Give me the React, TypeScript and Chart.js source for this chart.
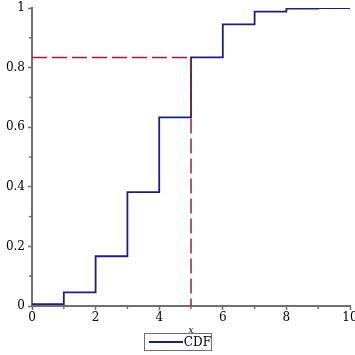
import React, { useEffect, useRef } from "react";
import { Chart, registerables } from "chart.js";

Chart.register(...registerables);

const xValues = [0, 1, 2, 3, 4, 5, 6, 7, 8, 9, 10];
const cdfValues = [0.006, 0.046, 0.167, 0.382, 0.633, 0.834, 0.945, 0.988, 0.998, 0.9999, 1];
const markerX = [0, 5, 5];
const markerY = [0.834, 0.834, 0];
const xMinorTicks = [1, 3, 5, 7, 9];
const yMinorTicks = [0.1, 0.3, 0.5, 0.7, 0.9];
const seriesLabel = "CDF";
const xTitle = "x";

const AXIS = "#6f6f6f";
const LINE = "#1a1f8a";
const FONT = "'DejaVu Serif', serif";

const minorTicksPlugin = {
  id: "minorTicks",
  afterDraw(chart: any) {
    const ctx = chart.ctx;
    const xs = chart.scales.x;
    const ys = chart.scales.y;
    ctx.save();
    ctx.strokeStyle = AXIS;
    ctx.lineWidth = 1.5;
    const ay = ys.getPixelForValue(0);
    const ax = xs.getPixelForValue(0);
    xMinorTicks.forEach((v) => {
      const px = xs.getPixelForValue(v);
      ctx.beginPath();
      ctx.moveTo(px, ay);
      ctx.lineTo(px, ay + 3);
      ctx.stroke();
    });
    yMinorTicks.forEach((v) => {
      const py = ys.getPixelForValue(v);
      ctx.beginPath();
      ctx.moveTo(ax, py);
      ctx.lineTo(ax - 3, py);
      ctx.stroke();
    });
    ctx.restore();
  },
};

export default function App() {
  const ref = useRef<HTMLCanvasElement>(null);
  useEffect(() => {
    if (!ref.current) return;
    const chart = new Chart(ref.current, {
      type: "line",
      data: {
        datasets: [
          {
            label: seriesLabel,
            data: xValues.map((x, i) => ({ x, y: cdfValues[i] })),
            borderColor: LINE,
            backgroundColor: LINE,
            borderWidth: 1.8,
            stepped: "before",
            pointRadius: 0,
            order: 1,
          },
          {
            label: "marker",
            data: markerX.map((x, i) => ({ x, y: markerY[i] })),
            borderColor: "#a81a2c",
            backgroundColor: "#a81a2c",
            borderWidth: 1.5,
            borderDash: [15, 5],
            pointRadius: 0,
            order: 0,
          },
        ],
      },
      options: {
        animation: false,
        responsive: false,
        maintainAspectRatio: false,
        layout: { padding: { top: 8, right: 5, left: 0, bottom: 19 } },
        plugins: {
          tooltip: { enabled: false },
          legend: { display: false },
        },
        scales: {
          x: {
            type: "linear",
            min: 0,
            max: 10,
            ticks: {
              stepSize: 2,
              color: "#000",
              font: { family: FONT, size: 12 },
              padding: 1,
              maxRotation: 0,
            },
            grid: {
              drawOnChartArea: false,
              drawTicks: true,
              tickLength: 4,
              tickColor: AXIS,
              tickWidth: 1.5,
            },
            border: { display: true, color: AXIS, width: 2 },
            title: {
              display: true,
              text: xTitle,
              color: "#000",
              font: { family: FONT, size: 9, style: "italic" },
              padding: { top: 0, bottom: 0 },
            },
            afterFit: (s: any) => {
              s.paddingLeft = 0;
              s.paddingRight = 0;
              s.height = 30;
            },
          },
          y: {
            type: "linear",
            min: 0,
            max: 1,
            ticks: {
              stepSize: 0.2,
              color: "#000",
              font: { family: FONT, size: 12 },
              padding: 3,
              callback: (v: any) => String(Math.round(Number(v) * 10) / 10),
            },
            grid: {
              drawOnChartArea: false,
              drawTicks: true,
              tickLength: 4,
              tickColor: AXIS,
              tickWidth: 1.5,
            },
            border: { display: true, color: AXIS, width: 2 },
            afterFit: (s: any) => {
              s.width = 32;
              s.paddingTop = 0;
              s.paddingBottom = 0;
            },
          },
        },
      },
      plugins: [minorTicksPlugin],
    });
    return () => chart.destroy();
  }, []);
  return (
    <div style={{ position: "fixed", left: 0, top: 0, width: 355, height: 355 }}>
      <canvas ref={ref} width={355} height={355} style={{ width: 355, height: 355, display: "block" }} />
      <div
        style={{
          position: "absolute",
          left: 144,
          top: 333,
          width: 66,
          height: 16,
          border: `1.5px solid ${AXIS}`,
          display: "flex",
          alignItems: "center",
          boxSizing: "content-box",
        }}
      >
        <span style={{ display: "inline-block", width: 34, height: 2, background: LINE, marginLeft: 4 }} />
        <span
          style={{
            fontFamily: FONT,
            fontSize: 12,
            lineHeight: "16px",
            color: "#000",
            marginLeft: 1,
          }}
        >
          {seriesLabel}
        </span>
      </div>
    </div>
  );
}
